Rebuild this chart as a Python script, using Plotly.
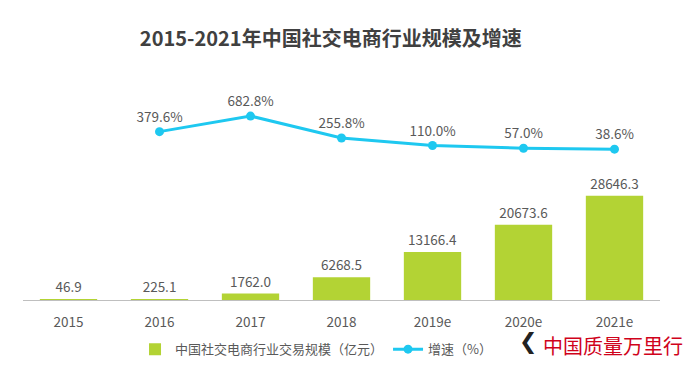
import plotly.graph_objects as go

years = ["2015", "2016", "2017", "2018", "2019e", "2020e", "2021e"]
scale = [46.9, 225.1, 1762.0, 6268.5, 13166.4, 20673.6, 28646.3]
growth_years = ["2016", "2017", "2018", "2019e", "2020e", "2021e"]
growth = [379.6, 682.8, 255.8, 110.0, 57.0, 38.6]

FONT = "Noto Sans CJK SC"
GREY = "#595959"

fig = go.Figure()
fig.add_trace(go.Bar(
    x=years, y=scale, name="中国社交电商行业交易规模（亿元）",
    marker=dict(color="#b3d334", line=dict(width=0)),
    text=[f"{v:.1f}" for v in scale], textposition="outside",
    textfont=dict(size=13.5, color=GREY, family=FONT),
    cliponaxis=False, yaxis="y",
))
fig.add_trace(go.Scatter(
    x=growth_years, y=growth, name="增速（%）", mode="lines+markers+text",
    line=dict(color="#1ec8f0", width=3), marker=dict(size=9, color="#1ec8f0"),
    text=[f"{v:.1f}%" for v in growth], textposition="top center",
    textfont=dict(size=13.5, color=GREY, family=FONT),
    cliponaxis=False, yaxis="y2",
))

fig.update_layout(
    width=692, height=376,
    margin=dict(l=23, r=32, t=72, b=74),
    paper_bgcolor="white", plot_bgcolor="white",
    font=dict(family=FONT, color=GREY, size=13),
    title=dict(text="<b>2015-2021年中国社交电商行业规模及增速</b>", x=0.478, xanchor="center",
               y=0.895, yanchor="middle", font=dict(size=20, color="#404040", family=FONT)),
    bargap=0.37,
    xaxis=dict(type="category", showgrid=False, showline=True, linecolor="#bfbfbf", linewidth=1,
               ticks="", ticklabelstandoff=10, tickfont=dict(size=13.5, color=GREY)),
    yaxis=dict(range=[0, 62700], visible=False, showgrid=False),
    yaxis2=dict(range=[-2896, 1540], overlaying="y", visible=False, showgrid=False),
    legend=dict(orientation="h", x=0.46, xanchor="center", y=-0.15, yanchor="top",
                font=dict(size=13, color=GREY), itemwidth=30, traceorder="normal"),
    showlegend=True,
)

fig.add_annotation(text="中国质量万里行", xref="paper", yref="paper", x=1.04, y=-0.125,
                   xanchor="right", yanchor="top", showarrow=False,
                   font=dict(size=20, color="#d0021b", family=FONT))
fig.add_annotation(text="<b>❮</b>", xref="paper", yref="paper", x=0.81, y=-0.12,
                   xanchor="right", yanchor="top", showarrow=False,
                   font=dict(size=22, color="#222222", family="DejaVu Sans"))

fig.write_html("out.html", config={"displayModeBar": False},
               post_script="document.body.style.margin='0px';")
